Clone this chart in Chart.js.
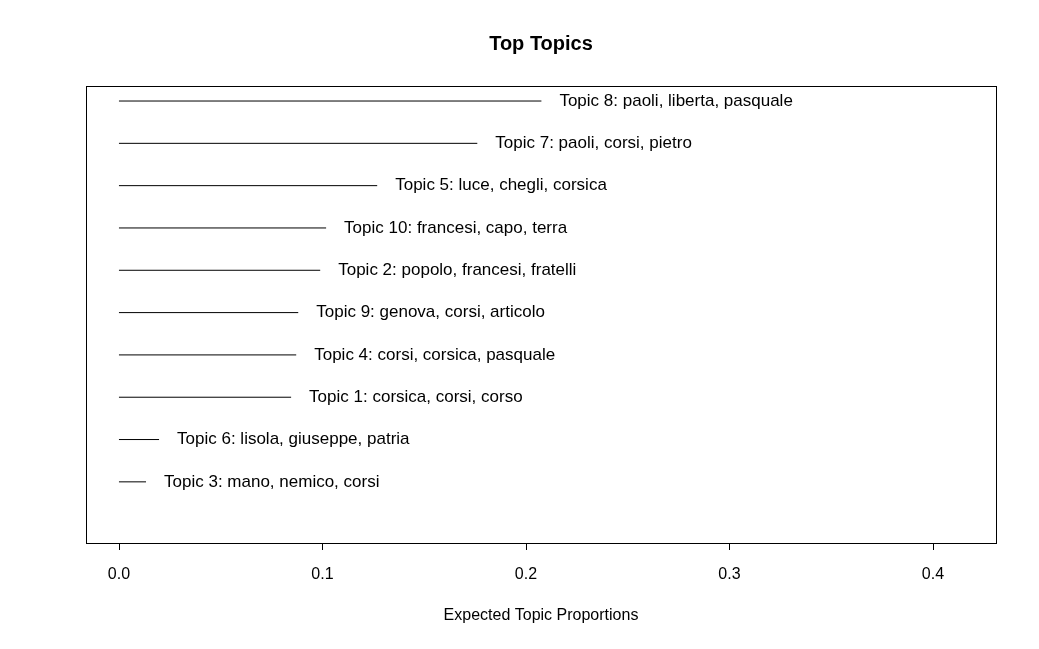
<!DOCTYPE html>
<html><head><meta charset="utf-8">
<script src="https://cdn.jsdelivr.net/npm/chart.js@4"></script>
<style>body{margin:0;background:#fff}</style>
</head><body>
<canvas id="c" width="1039" height="649"></canvas>
<script>
const topics = ["Topic 3: mano, nemico, corsi", "Topic 6: lisola, giuseppe, patria", "Topic 1: corsica, corsi, corso",
  "Topic 4: corsi, corsica, pasquale", "Topic 9: genova, corsi, articolo", "Topic 2: popolo, francesi, fratelli",
  "Topic 10: francesi, capo, terra", "Topic 5: luce, chegli, corsica", "Topic 7: paoli, corsi, pietro",
  "Topic 8: paoli, liberta, pasquale"];
const proportions = [0.0133, 0.0197, 0.0846, 0.0871, 0.0881, 0.0989, 0.1018, 0.1269, 0.1761, 0.2076];
const tickValues = [0, 0.1, 0.2, 0.3, 0.4];

const datasets = proportions.map((v, i) => ({
  type: "line", data: [{x: 0, y: i}, {x: v, y: i}],
  borderColor: "#000", borderWidth: 1, pointRadius: 0
}));

const rPlot = {
  id: "rPlot",
  afterDraw(chart) {
    const {ctx, chartArea: a, scales: {x, y}} = chart;
    ctx.save();
    ctx.strokeStyle = "#000"; ctx.lineWidth = 1;
    ctx.strokeRect(a.left + 0.5, a.top + 0.5, a.right - a.left, a.bottom - a.top);
    ctx.beginPath();
    ctx.moveTo(x.getPixelForValue(0), a.bottom + 0.5);
    ctx.lineTo(x.getPixelForValue(0.4), a.bottom + 0.5);
    tickValues.forEach(t => {
      const px = Math.round(x.getPixelForValue(t)) + 0.5;
      ctx.moveTo(px, a.bottom); ctx.lineTo(px, a.bottom + 7);
    });
    ctx.stroke();
    ctx.fillStyle = "#000";
    ctx.font = "17px 'Liberation Sans', Arial, sans-serif";
    ctx.textBaseline = "middle"; ctx.textAlign = "left";
    topics.forEach((t, i) => ctx.fillText(t, x.getPixelForValue(proportions[i]) + 18, y.getPixelForValue(i)));
    ctx.textAlign = "center";
    ctx.font = "16px 'Liberation Sans', Arial, sans-serif";
    tickValues.forEach(t => ctx.fillText(t.toFixed(1), x.getPixelForValue(t), 575));
    ctx.fillText("Expected Topic Proportions", (a.left + a.right) / 2, 616);
    ctx.font = "bold 20px 'Liberation Sans', Arial, sans-serif";
    ctx.fillText("Top Topics", (a.left + a.right) / 2, 44);
    ctx.restore();
  }
};

new Chart(document.getElementById("c"), {
  type: "line",
  data: {datasets},
  options: {
    responsive: false, animation: false, devicePixelRatio: 1,
    layout: {padding: {left: 86, right: 43, top: 86, bottom: 106}},
    plugins: {legend: {display: false}, tooltip: {enabled: false}, title: {display: false}},
    scales: {
      x: {type: "linear", min: -0.0162, max: 0.431, display: false},
      y: {type: "linear", min: -1.445, max: 9.355, display: false}
    }
  },
  plugins: [rPlot]
});
</script>
</body></html>
